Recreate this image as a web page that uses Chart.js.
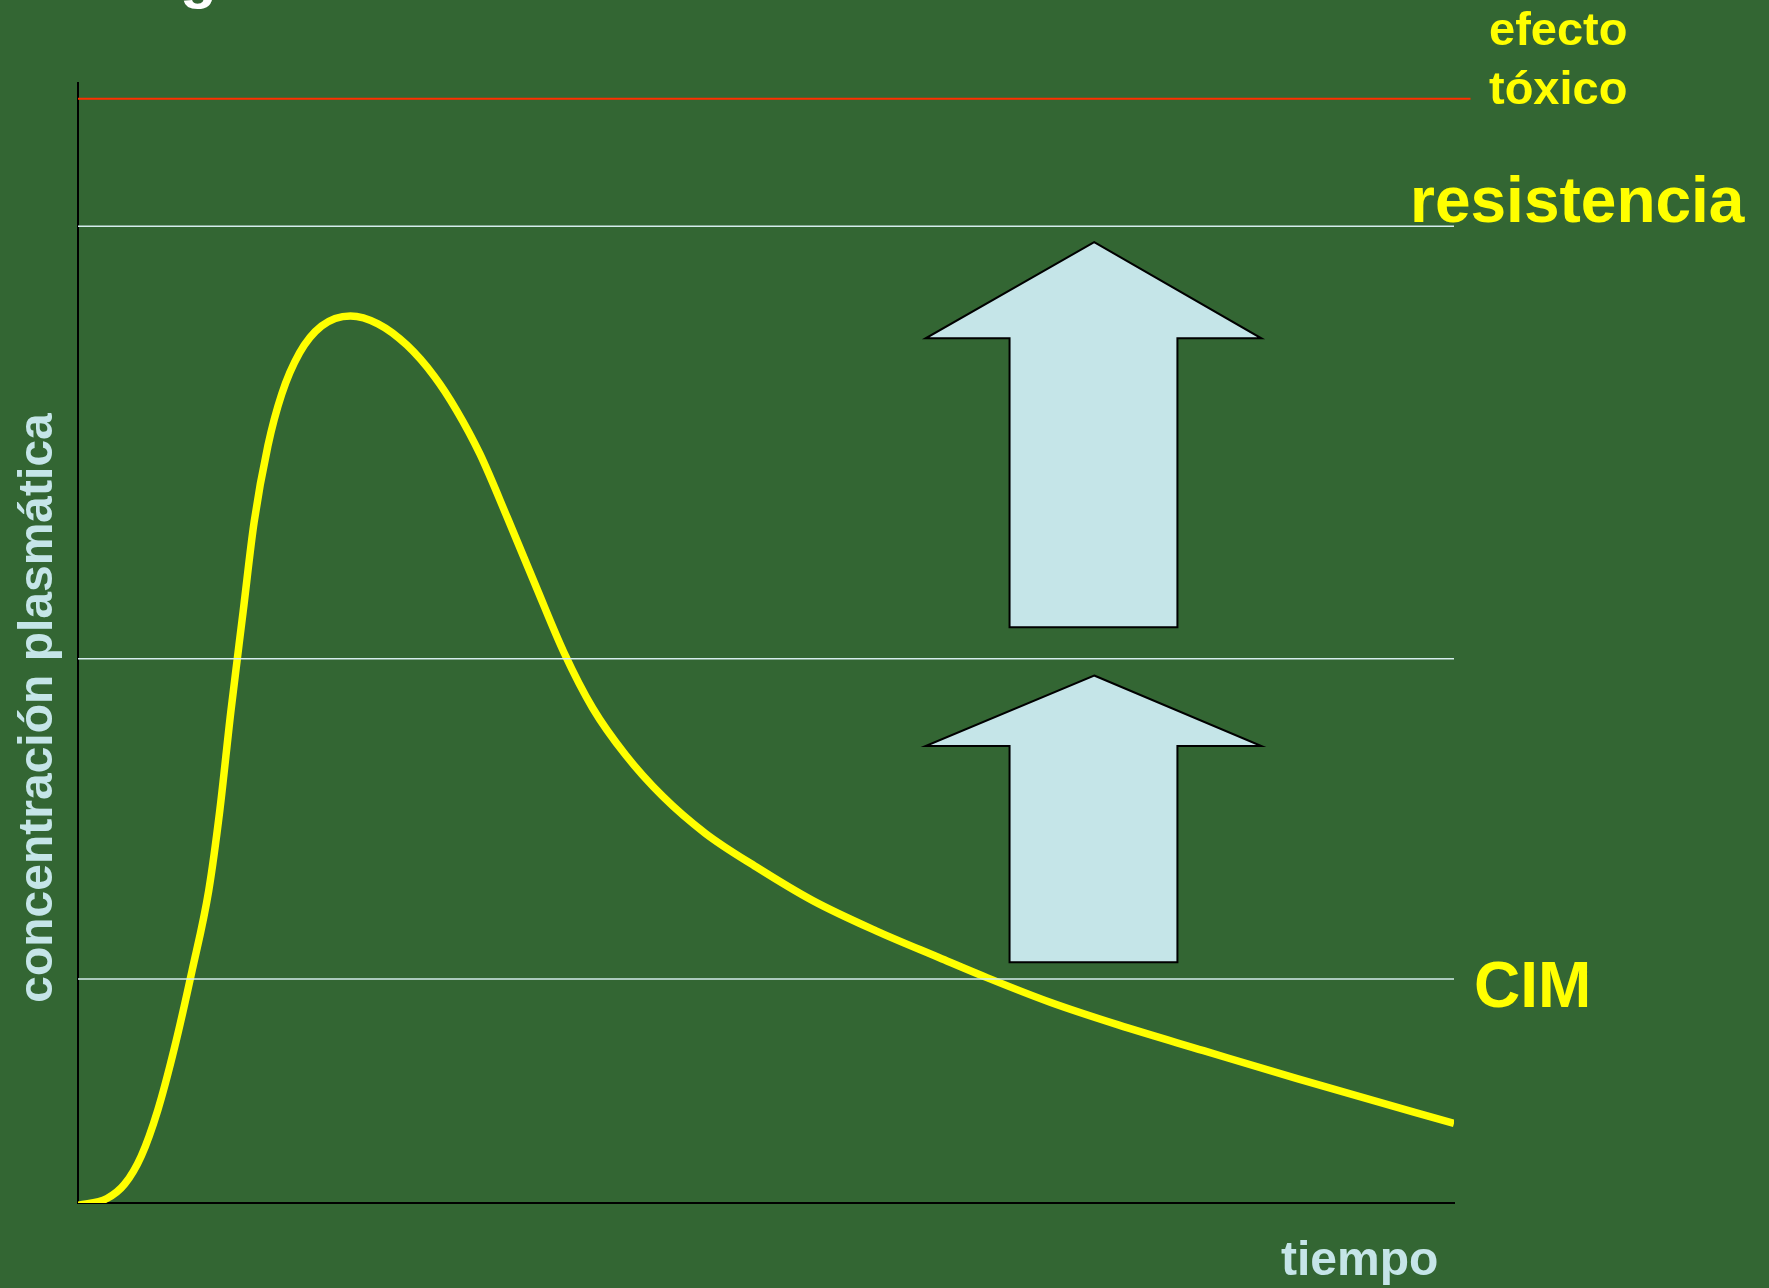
<!DOCTYPE html>
<html>
<head>
<meta charset="utf-8">
<script src="https://cdn.jsdelivr.net/npm/chart.js@4"></script>
<style>
  body { margin: 0; background: #336633; }
  canvas { display: block; }
</style>
</head>
<body>
<canvas id="curva" width="1769" height="1288"></canvas>
<script>
// concentracion plasmatica vs tiempo (unidades arbitrarias 0-100)
const tiempo = [0, 2.1, 3.4, 4.6, 5.8, 7.0, 8.3, 9.5, 10.3, 11.1, 12.0, 12.8, 13.8, 14.8, 16.1, 17.7, 19.8, 21.8, 23.9, 25.9, 27.5, 29.2, 31.2, 33.3, 35.3, 37.4, 39.8, 42.5, 45.6, 49.3, 53.4, 58.0, 62.6, 66.1, 70.7, 75.6, 81.8, 88.6, 94.3, 100];
const concentracion = [-0.2, 0.4, 1.7, 4.2, 8.3, 13.8, 20.8, 27.9, 35.0, 43.8, 52.8, 60.8, 67.6, 72.2, 75.9, 78.3, 79.2, 78.5, 76.6, 73.8, 70.8, 66.9, 61.2, 55.0, 49.2, 44.2, 40.0, 36.3, 33.0, 30.0, 27.0, 24.3, 21.9, 20.1, 17.9, 15.9, 13.6, 11.1, 9.1, 7.1];

// niveles horizontales
const nivelToxico = 98.6;
const nivelResistencia = 87.2;
const nivelMedio = 48.6;
const nivelCIM = 20.0;

// flechas: [x punta, y punta, x cabeza izq, x cabeza der, y base cabeza, x tallo izq, x tallo der, y fondo]
const flechaAlta = [73.85, 85.8, 61.6, 86.0, 77.2, 67.7, 79.9, 51.4];
const flechaBaja = [73.85, 47.1, 61.6, 86.0, 40.8, 67.7, 79.9, 21.5];

const AMARILLO = "#ffff00";
const CELESTE = "#c5e5e8";

function linea(y, x1, x2) {
  return [{ x: x1, y: y }, { x: x2, y: y }];
}

const curva = tiempo.map((t, i) => ({ x: t, y: concentracion[i] }));

const extras = {
  id: "extras",
  beforeDraw(chart) {
    const ctx = chart.ctx;
    ctx.save();
    ctx.fillStyle = "#336633";
    ctx.fillRect(0, 0, chart.width, chart.height);
    ctx.restore();
  },
  afterDatasetsDraw(chart) {
    const ctx = chart.ctx;
    const sx = chart.scales.x, sy = chart.scales.y;
    [flechaAlta, flechaBaja].forEach((f) => {
      const [tx, ty, hl, hr, hb, sl, sr, fb] = f;
      ctx.save();
      ctx.beginPath();
      ctx.moveTo(sx.getPixelForValue(tx), sy.getPixelForValue(ty));
      ctx.lineTo(sx.getPixelForValue(hr), sy.getPixelForValue(hb));
      ctx.lineTo(sx.getPixelForValue(sr), sy.getPixelForValue(hb));
      ctx.lineTo(sx.getPixelForValue(sr), sy.getPixelForValue(fb));
      ctx.lineTo(sx.getPixelForValue(sl), sy.getPixelForValue(fb));
      ctx.lineTo(sx.getPixelForValue(sl), sy.getPixelForValue(hb));
      ctx.lineTo(sx.getPixelForValue(hl), sy.getPixelForValue(hb));
      ctx.closePath();
      ctx.fillStyle = CELESTE;
      ctx.fill();
      ctx.lineWidth = 2;
      ctx.strokeStyle = "#000000";
      ctx.lineJoin = "miter";
      ctx.stroke();
      ctx.restore();
    });
  },
  afterDraw(chart) {
    const ctx = chart.ctx;
    ctx.save();
    ctx.textBaseline = "alphabetic";
    ctx.textAlign = "left";

    // resto del titulo cortado arriba
    ctx.fillStyle = "#ffffff";
    ctx.font = "bold 60px 'Liberation Sans', Arial, sans-serif";
    ctx.fillText("g", 180, -3);

    ctx.fillStyle = AMARILLO;
    ctx.font = "bold 47px 'Liberation Sans', Arial, sans-serif";
    ctx.fillText("efecto", 1489, 45);
    ctx.fillText("tóxico", 1489, 104);
    ctx.font = "bold 64px 'Liberation Sans', Arial, sans-serif";
    ctx.fillText("resistencia", 1410, 222);
    ctx.fillText("CIM", 1474, 1007);

    ctx.fillStyle = CELESTE;
    ctx.font = "bold 48px 'Liberation Sans', Arial, sans-serif";
    ctx.fillText("tiempo", 1281, 1275);

    ctx.translate(52, 708);
    ctx.rotate(-Math.PI / 2);
    ctx.textAlign = "center";
    ctx.fillText("concentración plasmática", 0, 0);
    ctx.restore();
  },
};

new Chart(document.getElementById("curva"), {
  type: "line",
  data: {
    datasets: [
      {
        label: "efecto tóxico",
        data: linea(nivelToxico, 0, 101.2),
        borderColor: "#ff3000",
        borderWidth: 2,
        pointRadius: 0,
        clip: false,
      },
      {
        label: "resistencia",
        data: linea(nivelResistencia, 0, 100),
        borderColor: "#d6ecee",
        borderWidth: 1.5,
        pointRadius: 0,
      },
      {
        label: "medio",
        data: linea(nivelMedio, 0, 100),
        borderColor: "#d6ecee",
        borderWidth: 1.5,
        pointRadius: 0,
      },
      {
        label: "CIM",
        data: linea(nivelCIM, 0, 100),
        borderColor: "#d6ecee",
        borderWidth: 1.5,
        pointRadius: 0,
      },
      {
        label: "concentración",
        data: curva,
        borderColor: AMARILLO,
        borderWidth: 7.5,
        pointRadius: 0,
        cubicInterpolationMode: "monotone",
        borderJoinStyle: "round",
        borderCapStyle: "butt",
      },
    ],
  },
  options: {
    responsive: false,
    animation: false,
    devicePixelRatio: 1,
    layout: { padding: { left: 78, top: 83, right: 315, bottom: 85 } },
    plugins: {
      legend: { display: false },
      tooltip: { enabled: false },
    },
    scales: {
      x: {
        type: "linear",
        min: 0,
        max: 100,
        ticks: { display: false },
        grid: { display: false },
        border: { color: "#000000", width: 2 },
        afterFit: (s) => { s.height = 0; },
      },
      y: {
        min: 0,
        max: 100,
        ticks: { display: false },
        grid: { display: false },
        border: { color: "#000000", width: 2 },
        afterFit: (s) => { s.width = 0; },
      },
    },
  },
  plugins: [extras],
});
</script>
</body>
</html>
